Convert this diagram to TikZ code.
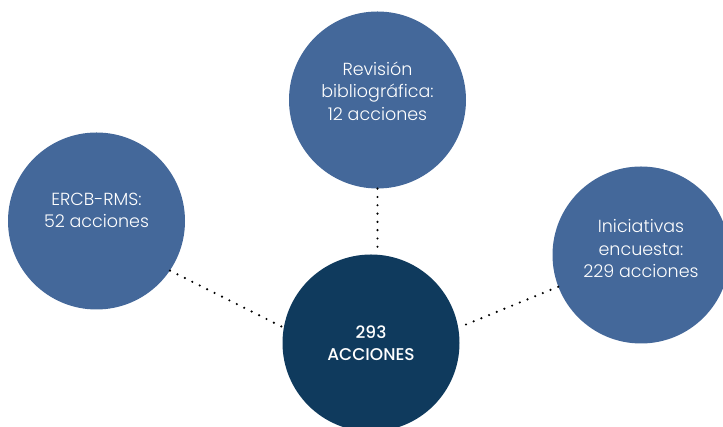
\documentclass[tikz,border=0pt]{standalone}
\usepackage{fontspec}
\setmainfont{Poppins}[UprightFont=* Light,BoldFont=* Medium]
\usepackage{tikz}
\usetikzlibrary{positioning}
\definecolor{azul}{HTML}{44689A}
\definecolor{azuloscuro}{HTML}{0F3A5D}

\begin{document}
\begin{tikzpicture}[x=1pt,y=1pt,
			fuente/.style={draw=none,fill=azul,circle,minimum size=177pt,inner sep=0pt,align=center,text=white,font=\fontsize{17.5}{22.5}\selectfont},
			total/.style={fuente,fill=azuloscuro,font=\bfseries\fontsize{17}{22.5}\selectfont},
			puntos/.style={line width=2.4pt,line cap=round,dash pattern=on 0pt off 8.3pt,black}
			]
			\clip (0,0) rectangle (723,427);
			\node[total] (tot) at (371,84) {293\\ACCIONES};
			\node[fuente,text depth=18pt] (rev) at (377.5,327) {Revisión\\bibliográfica:\\12 acciones};
			\node[fuente,text depth=21pt] (ercb) at (96.5,206) {ERCB-RMS:\\52 acciones};
			\node[fuente,text depth=13pt] (ini) at (641,172) {Iniciativas\\encuesta:\\229 acciones};
			\draw[puntos] (rev.south) -- (rev.south |- tot.north);
			\draw[puntos] (ercb.-34) -- (tot.170);
			\draw[puntos] (ini.201) -- (tot.10);
		\end{tikzpicture}
\end{document}
